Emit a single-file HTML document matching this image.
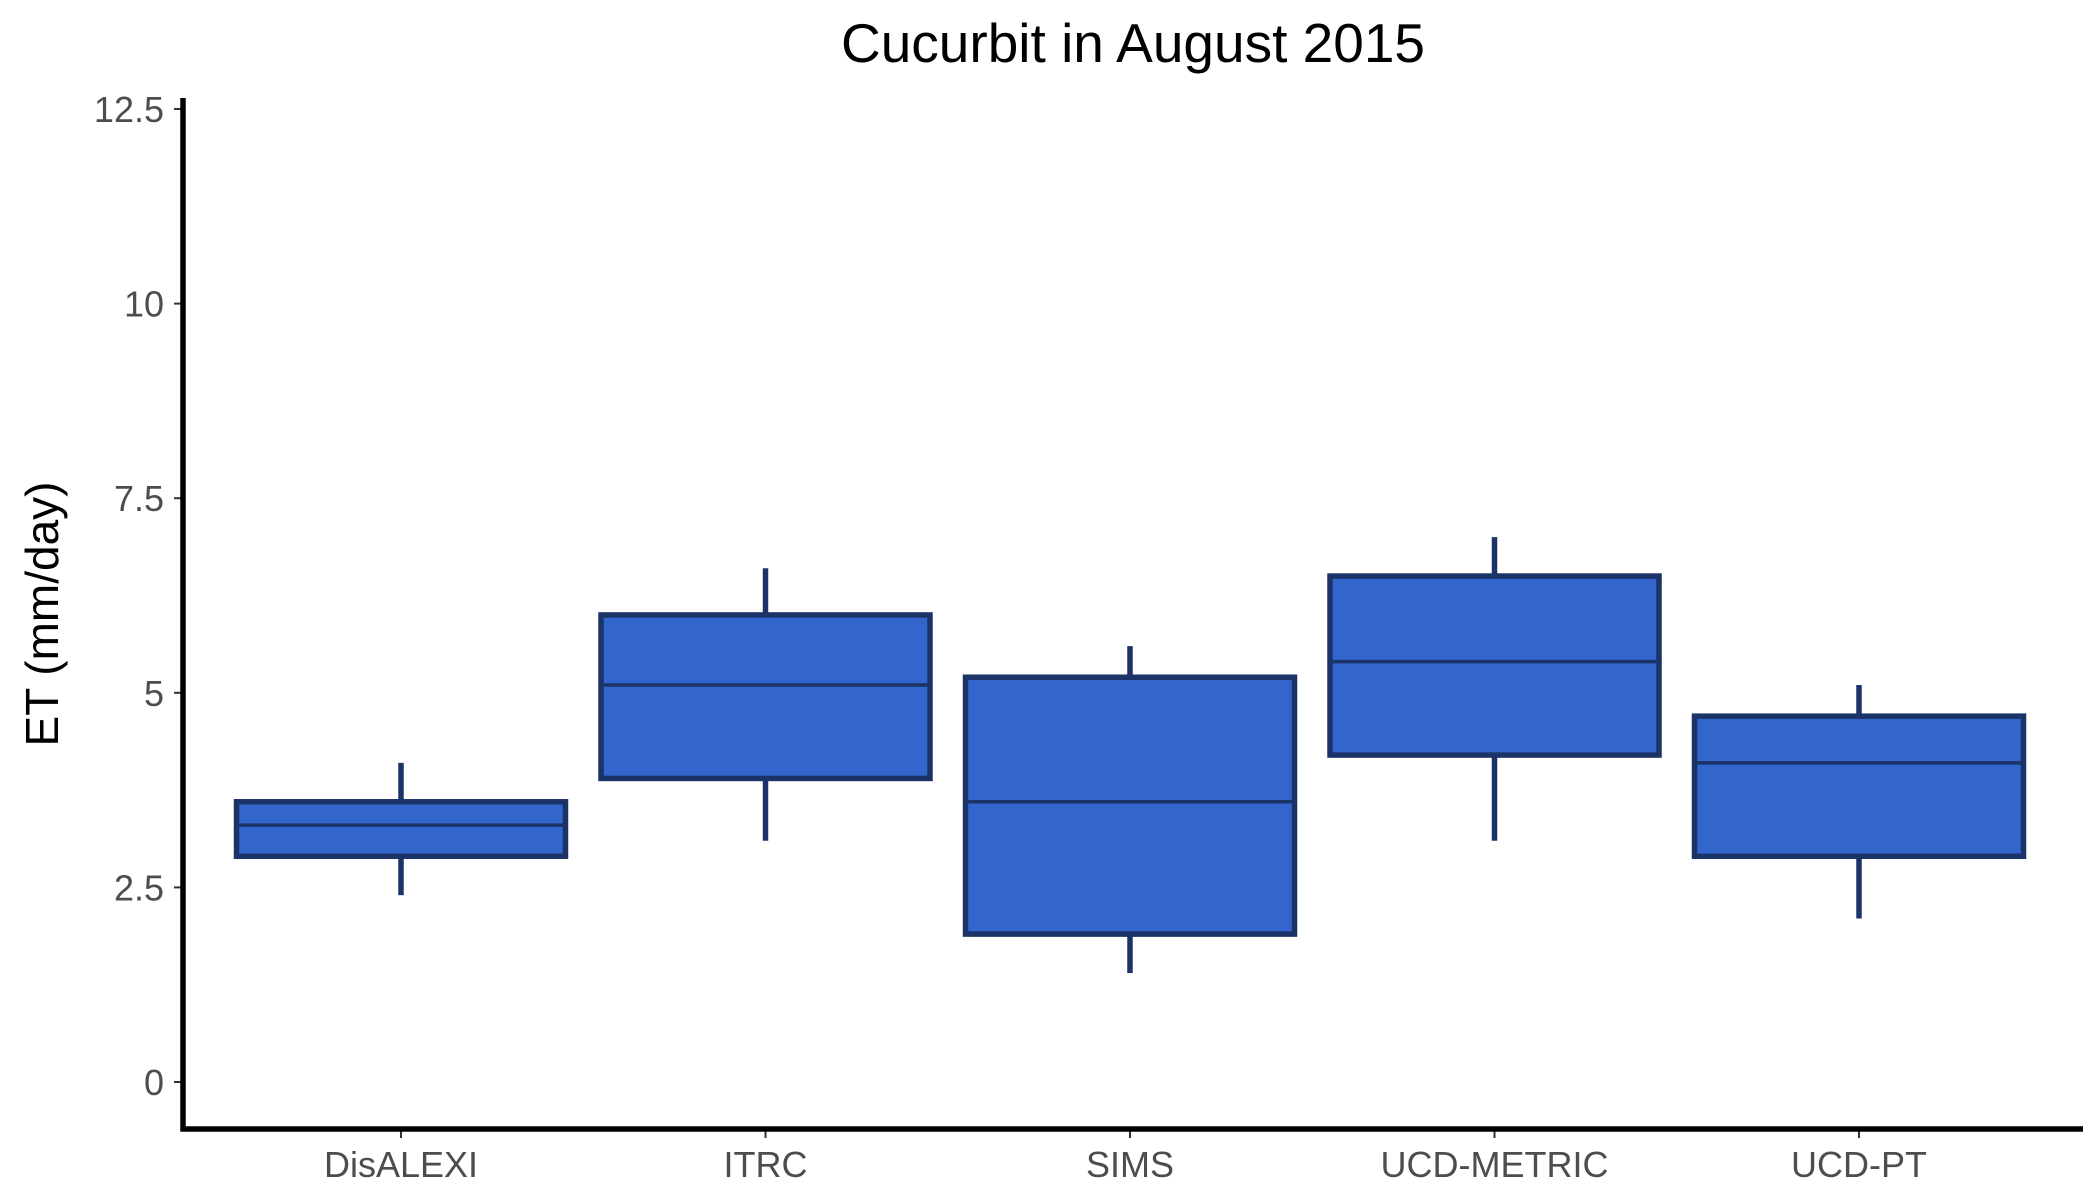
<!DOCTYPE html>
<html><head><meta charset="utf-8">
<style>
html,body{margin:0;padding:0;background:#fff;}
svg{display:block;font-family:"Liberation Sans",Arial,sans-serif;}
</style></head>
<body>
<svg id="chart" width="2100" height="1200" viewBox="0 0 2100 1200">
<text x="1133" y="62" text-anchor="middle" font-size="55" fill="#000">Cucurbit in August 2015</text>
<text transform="translate(58,614) rotate(-90)" text-anchor="middle" font-size="46" fill="#000">ET (mm/day)</text>
<g id="plot"></g>
</svg>
<script>
const categories = ["DisALEXI","ITRC","SIMS","UCD-METRIC","UCD-PT"];
const whiskerLow = [2.4, 3.1, 1.4, 3.1, 2.1];
const q1Values = [2.9, 3.9, 1.9, 4.2, 2.9];
const medianValues = [3.3, 5.1, 3.6, 5.4, 4.1];
const q3Values = [3.6, 6.0, 5.2, 6.5, 4.7];
const whiskerHigh = [4.1, 6.6, 5.6, 7.0, 5.1];
const yTicks = [0, 2.5, 5, 7.5, 10, 12.5];
const yTickLabels = ["0","2.5","5","7.5","10","12.5"];

const NS = "http://www.w3.org/2000/svg";
const g = document.getElementById("plot");
const axL = 183, axR = 2083, axB = 1129, axT = 98;
const y0 = 1082, y125 = 109;
function yScale(v){ return y0 - (v/12.5)*(y0-y125); }
const step = 364.5, firstX = 401;
function xScale(i){ return firstX + i*step; }
const boxW = 329;
function mk(tag, attrs){ const e=document.createElementNS(NS,tag); for(const k in attrs) e.setAttribute(k,attrs[k]); g.appendChild(e); return e; }

yTicks.forEach((t,i)=>{
  const y=yScale(t);
  const tk=mk("line",{x1:axL-9,x2:axL,y1:y,y2:y,stroke:"#333","stroke-width":2});
  
  
  const lb=mk("text",{x:axL-19,y:y+13,"text-anchor":"end","font-size":36,fill:"#4d4d4d"});
  lb.textContent=yTickLabels[i];
  
  
});

categories.forEach((c,i)=>{
  const cx=xScale(i);
  const stroke="#1b3366";
  const w1=mk("line",{x1:cx,x2:cx,y1:yScale(whiskerHigh[i]),y2:yScale(q3Values[i]),stroke:stroke,"stroke-width":5.5});
  
  
  const w2=mk("line",{x1:cx,x2:cx,y1:yScale(q1Values[i]),y2:yScale(whiskerLow[i]),stroke:stroke,"stroke-width":5.5});
  
  
  const b=mk("rect",{x:cx-boxW/2,y:yScale(q3Values[i]),width:boxW,height:yScale(q1Values[i])-yScale(q3Values[i]),fill:"#3366cc",stroke:stroke,"stroke-width":5.5});
  
  
  const m=mk("line",{x1:cx-boxW/2,x2:cx+boxW/2,y1:yScale(medianValues[i]),y2:yScale(medianValues[i]),stroke:stroke,"stroke-width":3.5});
  
  
  const tk=mk("line",{x1:cx,x2:cx,y1:axB,y2:axB+9,stroke:"#333","stroke-width":2});
  
  
  const lb=mk("text",{x:cx,y:1177,"text-anchor":"middle","font-size":36,fill:"#4d4d4d"});
  lb.textContent=c;
  
  
});

const ya=mk("line",{x1:axL,x2:axL,y1:axT,y2:axB+2.5,stroke:"#000","stroke-width":5.5});


const xa=mk("line",{x1:axL-2.5,x2:axR,y1:axB,y2:axB,stroke:"#000","stroke-width":5.5});


</script>
</body></html>
